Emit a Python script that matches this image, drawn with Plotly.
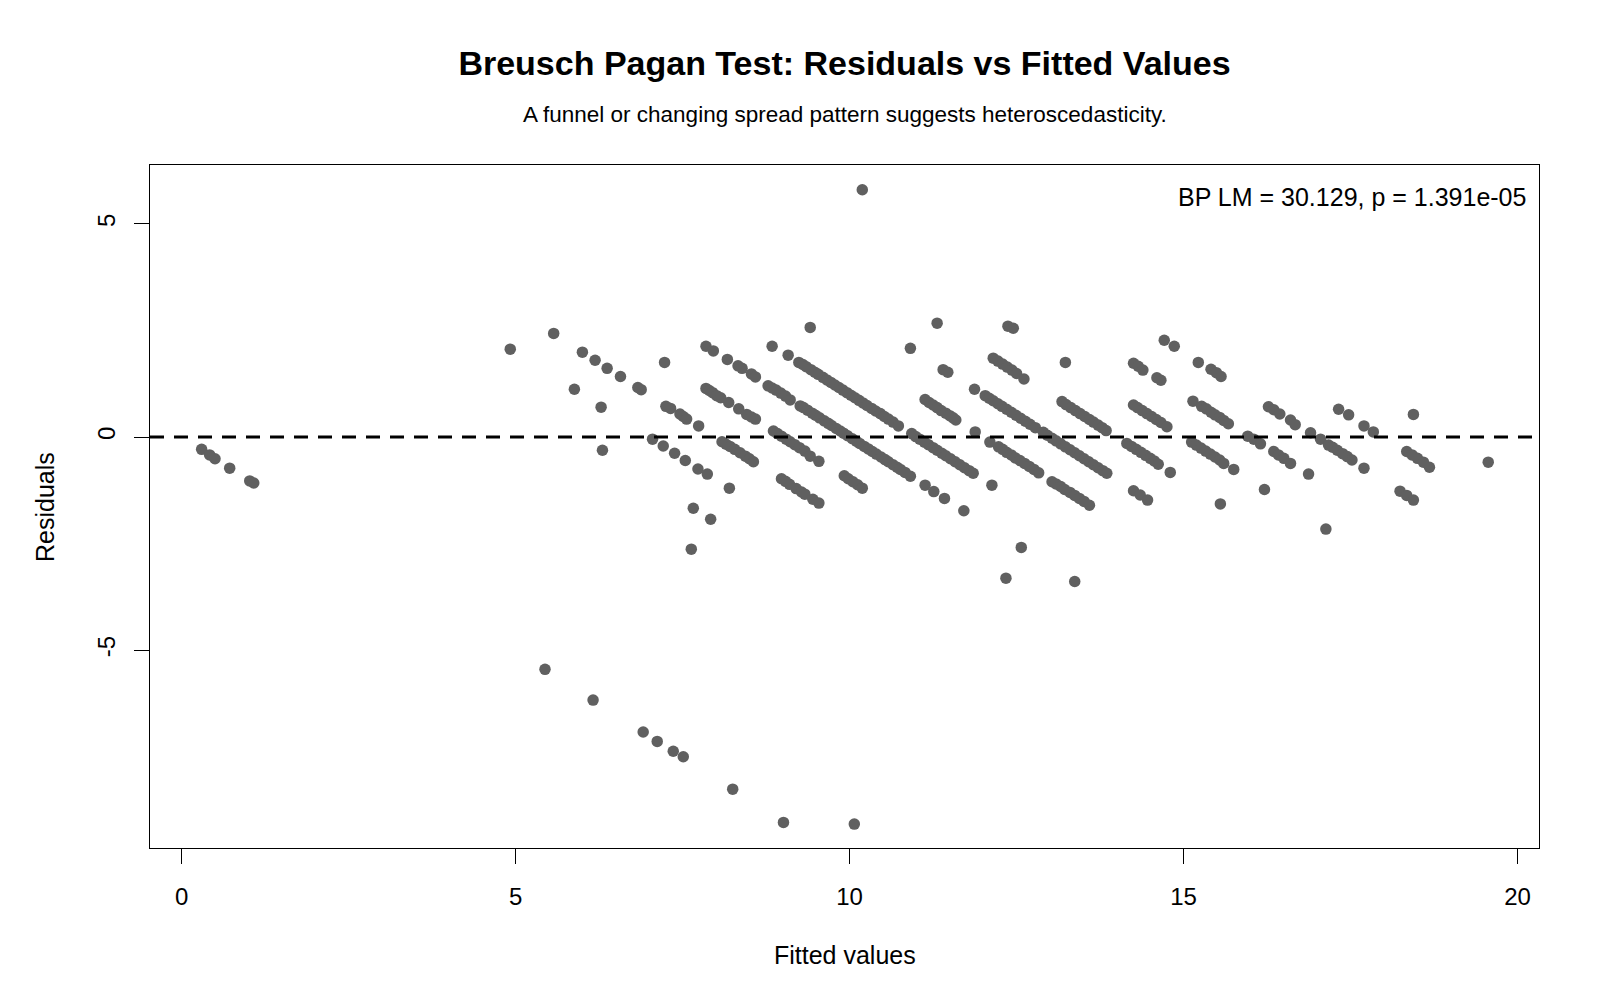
import plotly.graph_objects as go

# Fitted values and residuals (grouped by visible streak)
fitted_values = [
    # streak 0
    0.30, 0.42, 0.50, 0.72, 1.02, 1.08, 5.44, 6.16, 6.91, 7.12, 7.36, 7.51, 8.25, 9.01,
    # streaks 1, 5, 6
    10.07, 7.63, 6.30, 7.66, 7.92,
    # streak 7
    4.92, 5.88, 6.28, 7.05, 7.21, 7.38, 7.54, 7.73, 7.87, 8.20,
    # streak 8
    5.57, 6.00, 6.19, 6.37, 6.57, 6.83, 6.88, 7.25, 7.32, 7.46, 7.51, 7.56, 7.74, 8.09, 8.15,
    8.21, 8.28, 8.36, 8.44, 8.50, 8.56, 8.98, 9.04, 9.10, 9.20, 9.28, 9.33, 9.45, 9.54,
    # streak 9
    7.23, 7.85, 7.90, 7.95, 8.01, 8.07, 8.19, 8.34, 8.46, 8.53, 8.59, 8.86, 8.92, 8.98, 9.05,
    9.11, 9.18, 9.25, 9.33, 9.41, 9.54, 9.92, 9.98, 10.05, 10.12, 10.19, 12.34,
    # streak 10
    7.85, 7.96, 8.17, 8.33, 8.39, 8.53, 8.59, 8.78, 8.84, 8.90, 8.97, 9.04, 9.11, 9.26, 9.31,
    9.37, 9.44, 9.49, 9.55, 9.62, 9.68, 9.73, 9.80, 9.86, 9.91, 9.97, 10.04, 10.10, 10.15,
    10.22, 10.28, 10.34, 10.40, 10.47, 10.53, 10.58, 10.65, 10.71, 10.76, 10.83, 10.91, 11.13,
    11.26, 11.42, 11.71, 12.57, 13.37,
    # streak 11
    8.84, 9.08, 9.24, 9.30, 9.35, 9.42, 9.48, 9.53, 9.60, 9.66, 9.72, 9.78, 9.84, 9.90, 9.96,
    10.02, 10.08, 10.14, 10.20, 10.26, 10.33, 10.39, 10.46, 10.52, 10.58, 10.65, 10.73, 10.93,
    10.99, 11.05, 11.12, 11.18, 11.25, 11.31, 11.38, 11.44, 11.51, 11.58, 11.65, 11.72, 11.79,
    11.85, 12.13,
    # streak 12
    9.41, 11.13, 11.19, 11.25, 11.31, 11.37, 11.44, 11.50, 11.55, 11.59, 11.88, 12.10, 12.23,
    12.29, 12.35, 12.42, 12.48, 12.55, 12.62, 12.69, 12.76, 12.83, 13.03, 13.09, 13.16, 13.22,
    13.30, 13.37, 13.44, 13.51, 13.59,
    # streak 13
    10.91, 11.40, 11.47, 11.87, 12.03, 12.09, 12.15, 12.22, 12.28, 12.35, 12.42, 12.49, 12.56,
    12.63, 12.70, 12.78, 12.90, 12.96, 13.03, 13.09, 13.16, 13.23, 13.30, 13.37, 13.44, 13.51,
    13.58, 13.65, 13.72, 13.79, 13.85, 14.25, 14.35, 14.46,
    # streak 14
    11.31, 12.15, 12.22, 12.29, 12.36, 12.43, 12.50, 12.61, 13.18, 13.24, 13.31, 13.38, 13.45,
    13.52, 13.59, 13.65, 13.72, 13.78, 13.84, 14.15, 14.22, 14.29, 14.36, 14.43, 14.50, 14.56,
    14.62, 14.80, 15.55,
    # streak 15
    12.37, 12.45, 13.23, 14.25, 14.31, 14.38, 14.45, 14.52, 14.59, 14.66, 14.75, 15.12, 15.19,
    15.26, 15.33, 15.40, 15.47, 15.54, 15.60, 15.75, 16.21, 17.13,
    # streak 16
    10.19, 14.25, 14.32, 14.39, 14.60, 14.66, 15.14, 15.27, 15.34, 15.41, 15.47, 15.54, 15.60,
    15.67, 15.96, 16.05, 16.15, 16.35, 16.42, 16.50, 16.60, 16.87,
    # streak 17
    14.71, 14.86, 15.22, 15.41, 15.49, 15.56, 16.27, 16.35, 16.44, 16.60, 16.67, 16.90, 17.05,
    17.17, 17.23, 17.30, 17.38, 17.45, 17.52, 17.70, 18.24, 18.34, 18.44,
    # streak 18
    17.32, 17.47, 17.70, 17.84, 18.34, 18.42, 18.50, 18.59, 18.68,
    # streak 19
    18.44, 19.56,
]

residuals = [
    # streak 0
    -0.29, -0.42, -0.51, -0.73, -1.03, -1.08, -5.45, -6.17, -6.92, -7.14, -7.37, -7.50, -8.26, -9.04,
    # streaks 1, 5, 6
    -9.08, -2.63, -0.31, -1.67, -1.93,
    # streak 7
    2.06, 1.12, 0.70, -0.05, -0.21, -0.38, -0.55, -0.75, -0.87, -1.20,
    # streak 8
    2.43, 1.99, 1.80, 1.61, 1.42, 1.16, 1.11, 0.72, 0.67, 0.54, 0.48, 0.42, 0.26, -0.11, -0.17,
    -0.22, -0.29, -0.37, -0.45, -0.51, -0.58, -0.98, -1.04, -1.11, -1.21, -1.29, -1.34, -1.46, -1.55,
    # streak 9
    1.75, 1.14, 1.09, 1.04, 0.97, 0.92, 0.81, 0.66, 0.53, 0.47, 0.42, 0.14, 0.08, 0.02, -0.05,
    -0.11, -0.18, -0.25, -0.33, -0.45, -0.57, -0.91, -0.98, -1.05, -1.12, -1.20, -3.31,
    # streak 10
    2.13, 2.02, 1.82, 1.67, 1.61, 1.48, 1.41, 1.20, 1.15, 1.10, 1.03, 0.96, 0.87, 0.73, 0.69,
    0.63, 0.56, 0.51, 0.45, 0.38, 0.32, 0.27, 0.20, 0.14, 0.09, 0.03, -0.04, -0.10, -0.15,
    -0.22, -0.28, -0.34, -0.40, -0.47, -0.53, -0.58, -0.65, -0.71, -0.76, -0.83, -0.92, -1.13,
    -1.28, -1.44, -1.73, -2.59, -3.39,
    # streak 11
    2.13, 1.92, 1.75, 1.70, 1.65, 1.58, 1.52, 1.47, 1.40, 1.34, 1.28, 1.22, 1.16, 1.10, 1.04,
    0.98, 0.92, 0.86, 0.80, 0.74, 0.67, 0.61, 0.55, 0.48, 0.42, 0.35, 0.26, 0.08,
    0.01, -0.05, -0.12, -0.18, -0.25, -0.31, -0.38, -0.44, -0.51, -0.58, -0.65, -0.72, -0.79,
    -0.85, -1.13,
    # streak 12
    2.57, 0.88, 0.81, 0.75, 0.69, 0.62, 0.56, 0.50, 0.45, 0.40, 0.12, -0.12, -0.23,
    -0.29, -0.36, -0.42, -0.49, -0.55, -0.62, -0.69, -0.76, -0.84, -1.05, -1.10, -1.16, -1.23,
    -1.30, -1.37, -1.44, -1.51, -1.60,
    # streak 13
    2.08, 1.58, 1.52, 1.12, 0.97, 0.91, 0.85, 0.78, 0.72, 0.65, 0.58, 0.51, 0.44,
    0.37, 0.30, 0.22, 0.11, 0.04, -0.03, -0.09, -0.16, -0.23, -0.30, -0.37, -0.44, -0.51,
    -0.58, -0.65, -0.72, -0.79, -0.85, -1.26, -1.36, -1.48,
    # streak 14
    2.67, 1.85, 1.78, 1.71, 1.64, 1.57, 1.49, 1.36, 0.83, 0.76, 0.69, 0.62, 0.55,
    0.48, 0.41, 0.35, 0.28, 0.22, 0.15, -0.15, -0.22, -0.29, -0.36, -0.43, -0.50, -0.56,
    -0.64, -0.83, -1.57,
    # streak 15
    2.60, 2.55, 1.75, 0.75, 0.69, 0.62, 0.55, 0.48, 0.41, 0.34, 0.24, -0.12, -0.19,
    -0.26, -0.33, -0.40, -0.47, -0.54, -0.62, -0.76, -1.23, -2.16,
    # streak 16
    5.80, 1.73, 1.66, 1.57, 1.39, 1.33, 0.84, 0.72, 0.66, 0.58, 0.52, 0.46, 0.39,
    0.31, 0.02, -0.05, -0.16, -0.34, -0.42, -0.50, -0.62, -0.87,
    # streak 17
    2.27, 2.13, 1.75, 1.59, 1.51, 1.42, 0.71, 0.64, 0.54, 0.40, 0.29, 0.10, -0.05,
    -0.19, -0.24, -0.31, -0.39, -0.46, -0.54, -0.73, -1.27, -1.37, -1.48,
    # streak 18
    0.65, 0.52, 0.26, 0.12, -0.34, -0.42, -0.50, -0.59, -0.71,
    # streak 19
    0.53, -0.59,
]

x_ticks = [0, 5, 10, 15, 20]
y_ticks = [-5, 0, 5]

title_text = "<b>Breusch Pagan Test: Residuals vs Fitted Values</b>"
subtitle_text = "A funnel or changing spread pattern suggests heteroscedasticity."
stat_text = "BP LM = 30.129, p = 1.391e-05"

FONT = "Liberation Sans, Arial, sans-serif"

fig = go.Figure()
fig.add_trace(go.Scatter(
    x=fitted_values, y=residuals, mode="markers",
    marker=dict(color="#606060", size=11.5, line=dict(width=0)),
    showlegend=False, hoverinfo="x+y",
))

fig.add_shape(type="line", xref="paper", yref="y", x0=0, x1=1, y0=0, y1=0,
              line=dict(color="black", width=3, dash="14px,10px"))

fig.update_layout(
    width=1600, height=1000,
    margin=dict(l=150, r=61, t=165, b=152),
    paper_bgcolor="white", plot_bgcolor="white",
    font=dict(family=FONT, color="black"),
    title=dict(text=title_text, x=0.5, xref="paper", y=1 - 63 / 1000, yref="container",
               xanchor="center", yanchor="middle", font=dict(size=34, family=FONT, color="black")),
    showlegend=False,
)

fig.update_xaxes(
    range=[-0.473, 20.32], tickvals=x_ticks, ticktext=[str(v) for v in x_ticks],
    showline=True, mirror=True, linecolor="black", linewidth=1.3,
    ticks="outside", ticklen=15, tickwidth=1, tickcolor="black",
    showgrid=False, zeroline=False, tickfont=dict(size=24, family=FONT, color="black"),
    ticklabelstandoff=12,
)
fig.update_yaxes(
    range=[-9.64, 6.38], tickvals=y_ticks, ticktext=[str(v) for v in y_ticks],
    showline=True, mirror=True, linecolor="black", linewidth=1.3,
    ticks="outside", ticklen=15, tickwidth=1, tickcolor="black",
    showgrid=False, zeroline=False, tickangle=-90,
    tickfont=dict(size=24, family=FONT, color="black"),
    ticklabelstandoff=9,
)

fig.add_annotation(text=subtitle_text, xref="paper", yref="paper", x=0.5,
                   y=(848 - 114) / 683, xanchor="center", yanchor="middle",
                   showarrow=False, font=dict(size=22.5, family=FONT, color="black"))
fig.add_annotation(text=stat_text, xref="paper", yref="paper", x=(1528 - 150) / 1389,
                   y=(848 - 197) / 683, xanchor="right", yanchor="middle",
                   showarrow=False, font=dict(size=25, family=FONT, color="black"))
fig.add_annotation(text="Fitted values", xref="paper", yref="paper", x=0.5,
                   y=(848 - 955) / 683, xanchor="center", yanchor="middle",
                   showarrow=False, font=dict(size=25, family=FONT, color="black"))
fig.add_annotation(text="Residuals", xref="paper", yref="paper", x=(45 - 150) / 1389,
                   y=(848 - 507) / 683, xanchor="center", yanchor="middle",
                   textangle=-90, showarrow=False, font=dict(size=25, family=FONT, color="black"))

fig.write_html("out.html")
